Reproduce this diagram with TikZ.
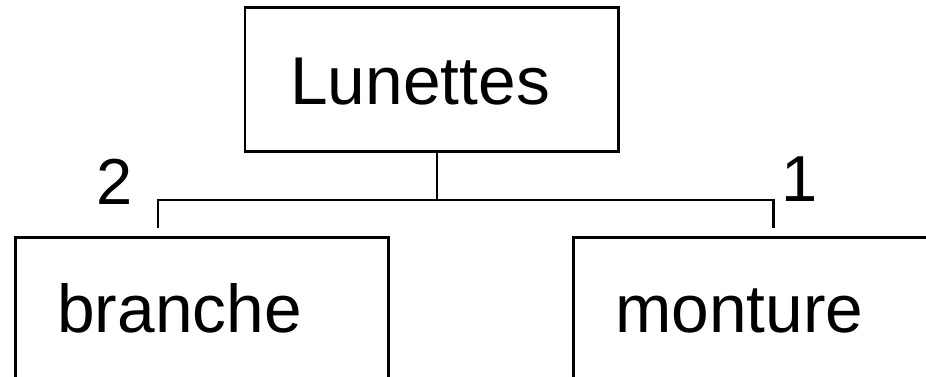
\documentclass[tikz,border=0pt]{standalone}
\usepackage{fontspec}
\setmainfont{Liberation Sans}
\usetikzlibrary{positioning}
\tikzset{
  classbox/.style={draw,line width=1.7pt,inner sep=0pt},
  classname/.style={font=\fontsize{38.5}{40}\selectfont,inner sep=0pt},
  mult/.style={font=\fontsize{37}{40}\selectfont,inner sep=0pt},
  link/.style={line width=1.7pt}
}
\begin{document}
\begin{tikzpicture}[x=0.02cm,y=-0.02cm]
  % Frame: 926 x 377 px
  \useasboundingbox (0,0) rectangle (926,377);
  \clip (0,0) rectangle (926,377);
  % Whole class
  \node[classbox,minimum width=373*0.02cm,minimum height=144*0.02cm] (lunettes) at (431.5,80) {};
  \node[classname,anchor=base west] (lunettesT) at (290,105) {Lunettes};
  % Parts (boxes run past the bottom edge)
  \node[classbox,minimum width=373*0.02cm,minimum height=300*0.02cm,anchor=north west] (branche) at (14,236) {};
  \node[classname,anchor=base west] (brancheT) at (57,333) {branche};
  \node[classbox,minimum width=420*0.02cm,minimum height=300*0.02cm,anchor=north west] (monture) at (572,236) {};
  \node[classname,anchor=base west] (montureT) at (615,333) {monture};
  % Connectors
  \coordinate (bus) at (437,200);
  \coordinate (bl) at (158,228);
  \coordinate (ml) at (773,228);
  \draw[link] (lunettes.south -| bus) -- (bus);
  \draw[link] (bl) |- (bus) -| (ml);
  % Multiplicities
  \node[mult,anchor=base west] (m2) at (96,205) {2};
  \node[mult,anchor=base west] (m1) at (781,202) {1};
\end{tikzpicture}
\end{document}
